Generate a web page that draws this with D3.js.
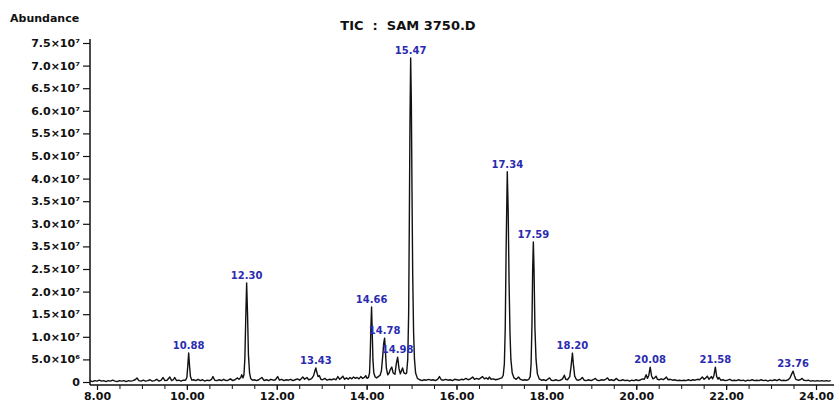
<!DOCTYPE html>
<html>
<head>
<meta charset="utf-8">
<script src="https://cdn.jsdelivr.net/npm/d3@7"></script>
<style>
  body { margin: 0; background: #fff; }
  text { font-family: "DejaVu Sans", sans-serif; font-weight: bold; }
</style>
</head>
<body>
<div id="chart"></div>
<script>
// TIC chromatogram, abundance in millions vs retention time (axis minutes)

var peakLabels = ['10.88', '12.30', '13.43', '14.66', '14.78', '14.98', '15.47', '17.34', '17.59', '18.20', '20.08', '21.58', '23.76'];
var peakRT     = [10.04, 11.33, 12.87, 14.11, 14.40, 14.69, 14.98, 17.13, 17.71, 18.58, 20.31, 21.76, 23.49];
var peakHeight = [6.4, 21.9, 3.1, 16.6, 9.7, 5.5, 71.7, 46.5, 31, 6.4, 3.3, 3.3, 2.4];

var yTickValues = [0, 5, 10, 15, 20, 25, 30, 35, 40, 45, 50, 55, 60, 65, 70, 75];
var yTickLabels = ['0', '5.0×10⁶', '1.0×10⁷', '1.5×10⁷', '2.0×10⁷', '2.5×10⁷', '3.5×10⁷', '3.0×10⁷',
                   '3.5×10⁷', '4.0×10⁷', '5.0×10⁷', '5.5×10⁷', '6.0×10⁷', '6.5×10⁷', '7.0×10⁷', '7.5×10⁷'];
var xTickValues = [8, 10, 12, 14, 16, 18, 20, 22, 24];
var xTickLabels = ['8.00', '10.00', '12.00', '14.00', '16.00', '18.00', '20.00', '22.00', '24.00'];

// [rt, abundance (x10^6)]
var trace = [
  [7.84,0.3],[7.9,0.1],[7.95,0.3],[8.0,0.2],[8.05,0.4],[8.1,0.2],[8.15,0.3],[8.2,0.1],[8.25,0.3],[8.3,0.2],
  [8.35,0.4],[8.4,0.2],[8.45,0.1],[8.5,0.3],[8.55,0.2],[8.6,0.3],[8.65,0.1],[8.7,0.3],[8.75,0.2],[8.8,0.3],
  [8.85,0.5],[8.89,0.9],[8.93,0.3],[8.98,0.2],[9.03,0.4],[9.08,0.2],[9.13,0.3],[9.18,0.5],[9.23,0.2],[9.28,0.3],
  [9.33,0.6],[9.38,0.2],[9.43,0.4],[9.47,1.0],[9.51,0.3],[9.56,0.4],[9.62,1.1],[9.66,0.3],[9.70,0.5],[9.73,1.0],
  [9.77,0.3],[9.82,0.4],[9.87,0.2],[9.92,0.4],
  [9.97,0.4],[10.00,1.0],[10.02,3.5],[10.04,6.4],[10.06,3.5],[10.08,1.2],[10.11,0.4],
  [10.15,0.5],[10.2,0.3],[10.25,0.6],[10.3,0.3],[10.35,0.5],[10.4,0.2],[10.45,0.4],[10.5,0.3],[10.55,0.6],[10.58,1.2],
  [10.62,0.4],[10.67,0.3],[10.72,0.5],[10.77,0.3],[10.82,0.6],[10.87,0.3],[10.92,0.4],[10.97,0.7],[11.02,0.3],[11.07,0.5],
  [11.12,0.9],[11.16,0.6],[11.20,1.0],[11.22,1.6],[11.25,0.9],[11.27,1.6],[11.29,5],[11.31,14],[11.33,21.9],[11.35,15],
  [11.37,6],[11.395,2],[11.42,0.8],[11.46,0.4],
  [11.5,0.5],[11.55,0.3],[11.6,0.5],[11.67,1.0],[11.72,0.3],[11.77,0.5],[11.82,0.3],[11.87,0.6],[11.92,0.4],[11.97,0.5],
  [12.02,1.2],[12.06,0.4],[12.11,0.6],[12.16,0.3],[12.21,0.5],[12.26,0.4],[12.31,0.6],[12.36,0.3],[12.41,0.5],[12.46,0.7],
  [12.51,0.4],[12.55,0.8],[12.58,1.1],[12.62,0.6],[12.67,1.0],[12.71,0.5],[12.75,0.6],
  [12.78,0.8],[12.82,1.4],[12.85,2.5],[12.87,3.1],[12.89,2.2],[12.92,1.2],[12.95,1.4],[12.98,0.6],
  [13.02,0.5],[13.07,0.8],[13.12,0.4],[13.17,0.6],[13.22,0.5],[13.27,0.7],[13.32,0.5],[13.36,1.2],[13.40,0.6],[13.44,0.9],
  [13.47,1.3],[13.51,0.6],[13.55,0.9],[13.59,0.6],[13.63,1.0],[13.67,0.7],[13.71,1.1],[13.75,0.8],[13.79,1.0],[13.83,0.7],
  [13.87,1.2],[13.91,0.8],[13.95,1.0],[13.98,1.4],[14.01,0.8],[14.04,1.0],
  [14.065,2],[14.08,6],[14.095,12],[14.11,16.6],[14.125,11],[14.14,5],[14.16,2],[14.19,1.1],[14.22,0.9],[14.26,1.2],
  [14.30,1.5],[14.33,2.5],[14.36,6],[14.38,8.5],[14.40,9.7],[14.42,6.5],[14.44,3],[14.47,1.6],[14.50,2.0],[14.53,2.8],
  [14.56,3.3],[14.59,2.0],[14.63,1.7],[14.66,4],[14.69,5.5],[14.72,3],[14.75,1.8],[14.78,2.6],[14.80,3.1],[14.83,2.0],
  [14.87,1.8],[14.89,2],[14.915,5],[14.935,15],[14.95,35],[14.965,58],[14.98,71.7],[14.995,62],[15.01,42],[15.025,24],
  [15.045,11],[15.065,5],[15.09,2],[15.13,0.8],
  [15.18,0.5],[15.23,0.3],[15.28,0.5],[15.33,0.4],[15.38,0.6],[15.43,0.4],[15.48,0.5],[15.53,0.3],[15.58,0.6],[15.62,1.2],
  [15.66,0.5],[15.71,0.4],[15.76,0.6],[15.81,0.4],[15.86,0.5],[15.91,0.3],[15.96,0.6],[16.01,0.5],[16.06,0.4],[16.11,0.6],
  [16.16,0.5],[16.21,0.8],[16.26,0.5],[16.31,0.7],[16.36,1.1],[16.40,0.6],[16.45,0.8],[16.50,0.6],[16.54,0.9],[16.58,1.2],
  [16.62,0.7],[16.66,0.9],[16.70,0.6],[16.73,1.1],[16.77,0.6],[16.82,0.7],[16.87,0.5],[16.92,0.6],[16.97,0.8],[17.01,0.9],
  [17.04,1.5],[17.065,4],[17.085,12],[17.105,30],[17.13,46.5],[17.15,38],[17.17,22],[17.19,11],[17.21,5],[17.24,2],
  [17.28,0.9],[17.33,0.6],[17.38,1.1],[17.42,0.6],[17.47,0.4],[17.52,0.5],[17.57,0.4],[17.61,0.6],[17.64,1.2],[17.66,4],
  [17.68,13],[17.695,25],[17.71,31],[17.725,25],[17.745,12],[17.77,5],[17.80,1.8],[17.84,0.7],[17.89,0.4],
  [17.94,0.5],[17.99,0.3],[18.03,0.6],[18.07,0.9],[18.11,0.4],[18.16,0.3],[18.21,0.5],[18.26,0.3],[18.31,0.4],[18.36,0.7],
  [18.40,1.5],[18.43,0.6],[18.47,0.5],[18.52,1.2],[18.55,3.5],[18.58,6.4],[18.60,4],[18.63,1.3],[18.67,0.5],
  [18.72,0.4],[18.76,0.6],[18.80,1.0],[18.84,0.4],[18.89,0.3],[18.94,0.5],[18.99,0.3],[19.04,0.5],[19.09,0.8],[19.13,0.4],
  [19.18,0.3],[19.23,0.5],[19.28,0.4],[19.32,0.6],[19.36,0.9],[19.40,0.4],[19.45,0.5],[19.50,0.3],[19.56,0.8],[19.60,0.4],
  [19.65,0.3],[19.70,0.5],[19.75,0.3],[19.80,0.4],[19.85,0.2],[19.90,0.4],[19.95,0.3],[20.00,0.5],[20.05,0.3],[20.10,0.5],
  [20.14,0.7],[20.18,0.6],[20.22,1.6],[20.25,0.8],[20.28,1.5],[20.31,3.3],[20.34,1.4],[20.37,0.7],[20.41,0.9],[20.44,1.3],
  [20.47,0.6],[20.51,0.5],[20.56,0.7],[20.60,0.5],[20.64,0.8],[20.67,1.1],[20.71,0.5],[20.76,0.6],[20.81,0.4],[20.86,0.5],
  [20.91,0.3],[20.96,0.4],[21.01,0.3],[21.06,0.4],[21.11,0.3],[21.16,0.5],[21.21,0.3],[21.26,0.5],[21.31,0.4],[21.36,0.6],
  [21.41,0.5],[21.47,1.1],[21.51,0.6],[21.55,0.9],[21.58,1.3],[21.62,0.6],[21.67,1.2],[21.70,0.7],[21.73,1.5],[21.76,3.3],
  [21.79,1.2],[21.82,0.6],[21.84,1.0],[21.88,0.4],[21.93,0.5],[21.98,0.3],[22.03,0.4],[22.08,0.6],[22.13,0.3],[22.18,0.4],
  [22.23,0.3],[22.28,0.5],[22.33,0.3],[22.38,0.4],[22.43,0.2],[22.48,0.4],[22.53,0.3],[22.58,0.5],[22.63,0.3],[22.68,0.4],
  [22.73,0.3],[22.78,0.5],[22.83,0.3],[22.88,0.4],[22.93,0.2],[22.98,0.4],[23.03,0.3],[23.08,0.5],[23.13,0.3],[23.18,0.6],
  [23.23,0.3],[23.28,0.4],[23.33,0.3],[23.38,0.5],[23.42,0.9],[23.46,1.8],[23.49,2.4],[23.52,1.4],[23.55,0.6],[23.60,0.4],
  [23.65,0.5],[23.69,0.8],[23.73,0.4],[23.78,0.3],[23.83,0.4],[23.88,0.2],[23.93,0.3],[23.98,0.2],[24.03,0.3],[24.08,0.2],
  [24.13,0.3],[24.18,0.2],[24.23,0.3],[24.28,0.2],[24.33,0.3]
];

var width = 836;
var height = 405;
var axisX = 90;      // y axis line
var axisY = 385;     // x axis line
var inkColor = '#111';
var labelColor = '#2b2bb0';

var svg = d3.select('#chart').append('svg')
      .attr('width', width)
      .attr('height', height)

var xScale = d3.scaleLinear()
      .domain([8, 24])
      .range([97, 816])

var yScale = d3.scaleLinear()
      .domain([0, 75])
      .range([382, 43])

// y axis
var yAxis = d3.axisLeft(yScale)
      .tickValues(yTickValues)
      .tickSize(7)
      .tickPadding(3)
      .tickFormat((d, i) => yTickLabels[i])

var drawYAxis = svg.append('g')
      .attr('transform', 'translate(' + axisX + ', 0)')
      .call(yAxis)
drawYAxis.select('.domain').remove()
drawYAxis.selectAll('line').attr('stroke', inkColor).attr('stroke-width', 1.2)
drawYAxis.selectAll('text')
      .attr('fill', inkColor)
      .style('font-size', '11px')

svg.append('line')
      .attr('x1', axisX).attr('x2', axisX)
      .attr('y1', 39).attr('y2', axisY)
      .attr('stroke', inkColor)
      .attr('stroke-width', 1.5)

// x axis: minor ticks every 0.5, labels every 2
var minorTicks = d3.range(8, 24.01, 0.5);
var xMinor = d3.axisBottom(xScale)
      .tickValues(minorTicks)
      .tickSize(4)
      .tickFormat('')
var drawXMinor = svg.append('g')
      .attr('transform', 'translate(0, ' + axisY + ')')
      .call(xMinor)
drawXMinor.select('.domain').remove()
drawXMinor.selectAll('line').attr('stroke', inkColor)

var xAxis = d3.axisBottom(xScale)
      .tickValues(xTickValues)
      .tickSize(5)
      .tickPadding(2)
      .tickFormat((d, i) => xTickLabels[i])
var drawXAxis = svg.append('g')
      .attr('transform', 'translate(0, ' + axisY + ')')
      .call(xAxis)
drawXAxis.select('.domain').remove()
drawXAxis.selectAll('line').attr('stroke', inkColor).attr('stroke-width', 1.2)
drawXAxis.selectAll('text')
      .attr('fill', inkColor)
      .style('font-size', '11px')

svg.append('line')
      .attr('x1', axisX).attr('x2', 834)
      .attr('y1', axisY).attr('y2', axisY)
      .attr('stroke', inkColor)
      .attr('stroke-width', 1.5)

// trace
var line = d3.line()
      .x(d => xScale(d[0]))
      .y(d => yScale(d[1]))

svg.append('path')
      .datum(trace)
      .attr('d', line)
      .attr('fill', 'none')
      .attr('stroke', inkColor)
      .attr('stroke-width', 1.4)
      .attr('stroke-linejoin', 'round')

// peak labels
svg.selectAll('.peakLabel')
      .data(peakLabels)
      .enter()
      .append('text')
      .attr('class', 'peakLabel')
      .attr('x', (d, i) => xScale(peakRT[i]))
      .attr('y', (d, i) => yScale(peakHeight[i]) - 4)
      .attr('text-anchor', 'middle')
      .attr('fill', labelColor)
      .style('font-size', '10px')
      .text(d => d)

// titles
svg.append('text')
      .attr('x', 10)
      .attr('y', 22)
      .attr('fill', inkColor)
      .style('font-size', '11px')
      .text('Abundance')

svg.append('text')
      .attr('x', 408)
      .attr('y', 30)
      .attr('text-anchor', 'middle')
      .attr('fill', inkColor)
      .style('font-size', '13px')
      .style('white-space', 'pre')
      .text('TIC  :  SAM 3750.D')
</script>
</body>
</html>
